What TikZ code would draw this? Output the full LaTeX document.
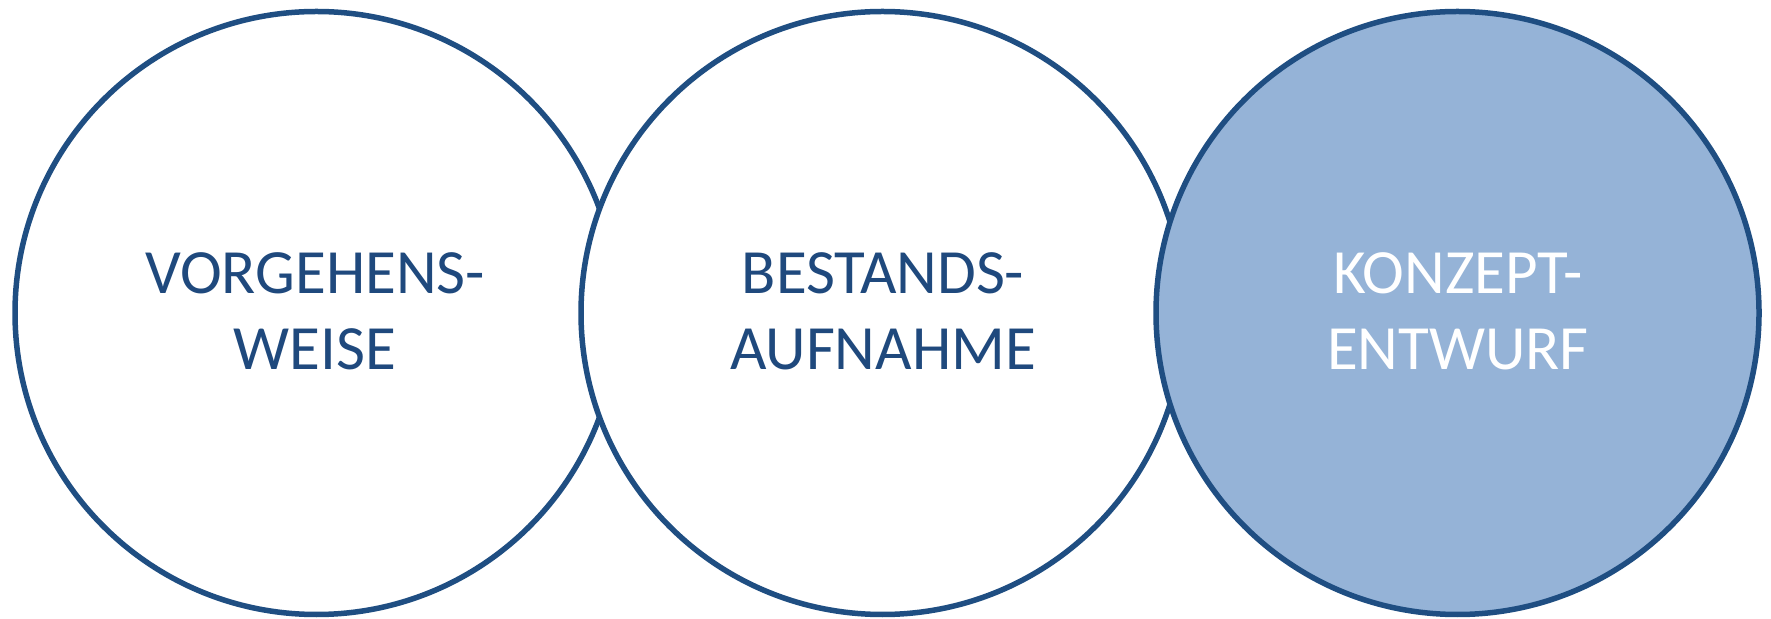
\documentclass[tikz,border=0pt]{standalone}
\usepackage{fontspec}
\setmainfont{Carlito}
\definecolor{ringblue}{HTML}{1F4E82}
\definecolor{textblue}{HTML}{1F497D}
\definecolor{fillblue}{HTML}{95B3D7}
\begin{document}
\begin{tikzpicture}[x=1pt,y=1pt,
  ring/.style={circle, draw=ringblue, line width=5.5pt, minimum size=603pt, inner sep=0pt},
  label/.style={align=center, font=\fontsize{63}{76}\selectfont, inner sep=0pt}]
\useasboundingbox (0,0) rectangle (1771,618);
\node[ring, fill=white] (c1) at (316.5,305) {};
\node[ring, fill=white] (c2) at (882.5,305) {};
\node[ring, fill=fillblue] (c3) at (1457.5,305) {};
\node[label, text=textblue, anchor=base] (t1) at (315,248) {VORGEHENS-\\WEISE};
\node[label, text=textblue, anchor=base] (t2) at (883,248) {BESTANDS-\\AUFNAHME};
\node[label, text=white, anchor=base] (t3) at (1458,248) {KONZEPT-\\ENTWURF};
\end{tikzpicture}
\end{document}
